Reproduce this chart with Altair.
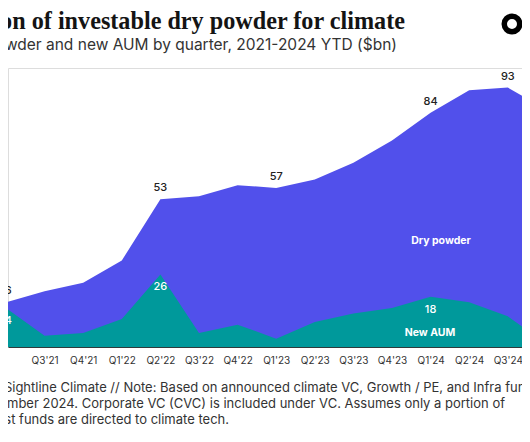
import json
import altair as alt
import pandas as pd

# ---------------- data ----------------
quarters = ["Q1'21", "Q2'21", "Q3'21", "Q4'21", "Q1'22", "Q2'22", "Q3'22", "Q4'22",
            "Q1'23", "Q2'23", "Q3'23", "Q4'23", "Q1'24", "Q2'24", "Q3'24", "Q4'24"]
dry_powder = [2, 16, 20, 23, 31, 53, 54, 58, 57, 60, 66, 74, 84, 92, 93, 85]
new_aum = [5, 14, 4, 5, 10, 26, 5, 8, 3, 9, 12, 14, 18, 16, 11, 1]

dry_labelled = ["Q2'21", "Q2'22", "Q1'23", "Q1'24", "Q3'24"]
new_labelled = ["Q2'21", "Q2'22", "Q1'24"]

title_text = "Evolution of investable dry powder for climate"
subtitle_text = "Dry powder and new AUM by quarter, 2021-2024 YTD ($bn)"
foot_lines = [
    "Source: Sightline Climate // Note: Based on announced climate VC, Growth / PE, and Infra funds",
    "as of November 2024. Corporate VC (CVC) is included under VC. Assumes only a portion of",
    "generalist funds are directed to climate tech.",
]

BLUE = "#5150EB"
TEAL = "#00999B"
FONT = "Inter"

df = pd.DataFrame({
    "idx": list(range(len(quarters))),
    "quarter": quarters,
    "dry": dry_powder,
    "new": new_aum,
})

x_enc = alt.X(
    "idx:Q",
    scale=alt.Scale(domain=[1.052, 14.368], nice=False, zero=False),
    axis=alt.Axis(
        values=list(range(len(quarters))),
        labelExpr=json.dumps(quarters) + "[datum.value]",
        title=None, grid=False, ticks=False,
        domain=True, domainColor="#2f3b3b", domainWidth=1,
        labelFont=FONT, labelFontSize=10, labelColor="#333333",
        labelPadding=8, labelBound=False, labelOverlap=False, labelFlush=False,
    ),
)
y_scale = alt.Scale(domain=[0, 100], nice=False)

base = alt.Chart(df)

dry_area = base.mark_area(color=BLUE, clip=True, opacity=1).encode(
    x=x_enc,
    y=alt.Y("dry:Q", scale=y_scale, axis=None),
)
new_area = base.mark_area(color=TEAL, clip=True, opacity=1).encode(
    x="idx:Q",
    y=alt.Y("new:Q", scale=y_scale),
)

dry_lbl = base.transform_filter(
    alt.FieldOneOfPredicate(field="quarter", oneOf=dry_labelled)
).mark_text(font=FONT, fontSize=11, fontWeight=500, color="#222222", dy=-11).encode(
    x="idx:Q", y=alt.Y("dry:Q", scale=y_scale), text="dry:Q"
)
new_lbl = base.transform_filter(
    alt.FieldOneOfPredicate(field="quarter", oneOf=new_labelled)
).mark_text(font=FONT, fontSize=11, fontWeight=500, color="white", dy=13).encode(
    x="idx:Q", y=alt.Y("new:Q", scale=y_scale), text="new:Q"
)

one = alt.Data(values=[{}])


def note(text, x, y, **kw):
    return alt.Chart(one).mark_text(text=text, **kw).encode(
        x=alt.value(x), y=alt.value(y)
    )


series_dry = note("Dry powder", 433, 173, font=FONT, fontSize=10.5, fontWeight="bold", color="white")
series_new = note("New AUM", 422, 265, font=FONT, fontSize=10.5, fontWeight="bold", color="white")

title = note(title_text, 397, -39, font="Liberation Serif", fontSize=24.2, fontWeight="bold",
             color="#141414", align="right", baseline="alphabetic")
subtitle = note(subtitle_text, 389, -18, font=FONT, fontSize=15.5, color="#333333",
                align="right", baseline="alphabetic")
foot1 = note(foot_lines[0], -55, 324, font=FONT, fontSize=13, color="#333333",
             align="left", baseline="alphabetic")
foot2 = note(foot_lines[1], 497, 340, font=FONT, fontSize=13, color="#333333",
             align="right", baseline="alphabetic")
foot3 = note(foot_lines[2], 221, 356, font=FONT, fontSize=13, color="#333333",
             align="right", baseline="alphabetic")

logo = alt.Chart(one).mark_point(shape="circle", filled=False, size=240, strokeWidth=5.5,
                                  color="black", opacity=1).encode(
    x=alt.value(504), y=alt.value(-44)
)

chart = alt.layer(
    dry_area, new_area, dry_lbl, new_lbl, series_dry, series_new,
    title, subtitle, foot1, foot2, foot3, logo,
).properties(
    width=514, height=279,
    padding={"top": 60, "bottom": 81, "left": 0, "right": 0},
    autosize=alt.AutoSizeParams(type="none"),
).configure_view(stroke=None).configure(background="white")

chart.save("out.html", embed_options={"renderer": "svg", "actions": False})
